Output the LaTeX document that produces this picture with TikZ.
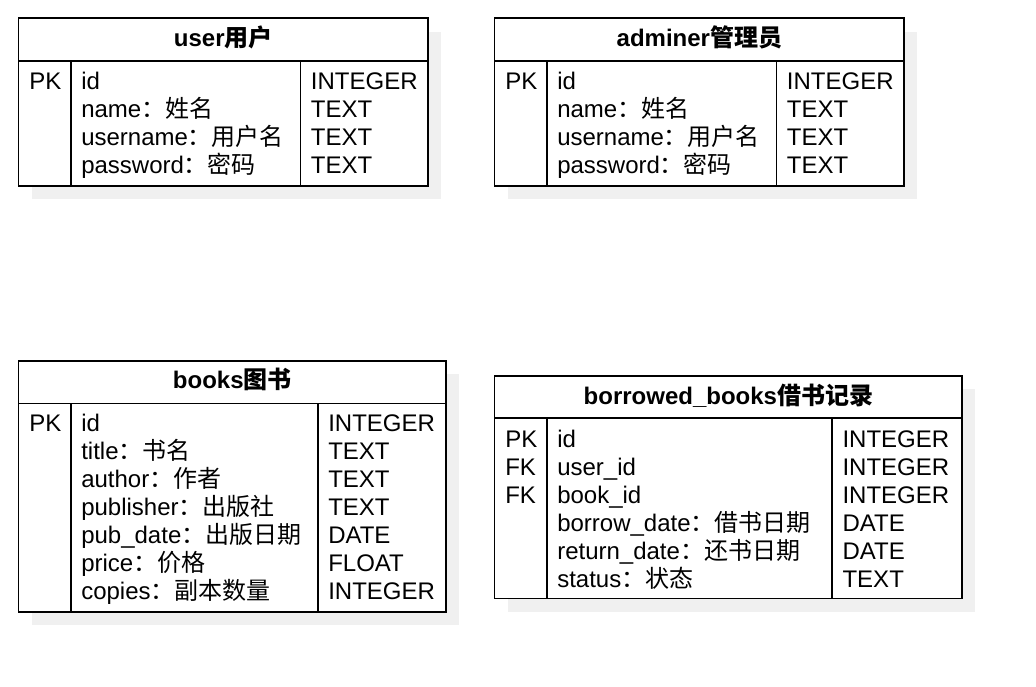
\documentclass[tikz,border=0pt]{standalone}
\usepackage{fontspec}
\setmainfont{Liberation Sans}
\newfontfamily\cjk{Noto Sans CJK SC}
\newcommand{\zh}[1]{{\cjk #1}}
\definecolor{shadowgray}{HTML}{F0F0F0}
\tikzset{
  tablebox/.style={draw=black, line width=1.3pt, fill=white},
  shadowbox/.style={fill=shadowgray, draw=none},
  divider/.style={draw=black, line width=1.3pt},
  cell/.style={anchor=base west, inner sep=0pt, align=left, font=\fontsize{18pt}{21pt}\selectfont},
  title/.style={anchor=base, inner sep=0pt, font=\fontsize{18pt}{21pt}\selectfont\bfseries},
}
% multi-line nodes: the base anchor is the baseline of the LAST line
\begin{document}
\begin{tikzpicture}[x=0.75pt, y=-0.75pt]
\useasboundingbox (0,0) rectangle (1036,686);

% ---------- user ----------
\fill[shadowbox] (32,32) rectangle (441,199);
\draw[tablebox] (18.5,18) rectangle (428,186);
\draw[divider] (18.5,61) -- (428,61);
\draw[divider] (70.7,61) -- (70.7,186);
\draw[divider] (300.5,61) -- (300.5,186);
\node[title] (userT) at (223.3,46.5) {user\zh{用户}};
\node[cell] (userK) at (29,89.3) {PK};
\node[cell] (userF) at (81,173.3) {id\\name\zh{：姓名}\\username\zh{：用户名}\\password\zh{：密码}};
\node[cell] (userY) at (310.7,173.3) {INTEGER\\TEXT\\TEXT\\TEXT};

% ---------- adminer ----------
\fill[shadowbox] (508,32) rectangle (917,199);
\draw[tablebox] (494.5,18) rectangle (904.3,186);
\draw[divider] (494.5,61) -- (904.3,61);
\draw[divider] (546.7,61) -- (546.7,186);
\draw[divider] (776.5,61) -- (776.5,186);
\node[title] (admT) at (699.4,46.5) {adminer\zh{管理员}};
\node[cell] (admK) at (505,89.3) {PK};
\node[cell] (admF) at (557,173.3) {id\\name\zh{：姓名}\\username\zh{：用户名}\\password\zh{：密码}};
\node[cell] (admY) at (786.7,173.3) {INTEGER\\TEXT\\TEXT\\TEXT};

% ---------- books ----------
\fill[shadowbox] (32,374) rectangle (459,625);
\draw[tablebox] (18.5,361) rectangle (446,611.7);
\draw[divider] (18.5,403.5) -- (446,403.5);
\draw[divider] (70.7,403.5) -- (70.7,611.7);
\draw[divider] (318,403.5) -- (318,611.7);
\node[title] (bookT) at (232.3,388.5) {books\zh{图书}};
\node[cell] (bookK) at (29,431.7) {PK};
\node[cell] (bookF) at (81,599.7) {id\\title\zh{：书名}\\author\zh{：作者}\\publisher\zh{：出版社}\\pub\_date\zh{：出版日期}\\price\zh{：价格}\\copies\zh{：副本数量}};
\node[cell] (bookY) at (328,599.7) {INTEGER\\TEXT\\TEXT\\TEXT\\DATE\\FLOAT\\INTEGER};

% ---------- borrowed_books ----------
\fill[shadowbox] (508,389) rectangle (975,611.5);
\draw[tablebox] (494.5,376) rectangle (962.3,598.5);
\draw[divider] (494.5,418) -- (962.3,418);
\draw[divider] (546.7,418) -- (546.7,598.5);
\draw[divider] (831.7,418) -- (831.7,598.5);
\node[title] (borT) at (728.4,404) {borrowed\_books\zh{借书记录}};
\node[cell] (borK) at (505,503.3) {PK\\FK\\FK};
\node[cell] (borF) at (557,587.3) {id\\user\_id\\book\_id\\borrow\_date\zh{：借书日期}\\return\_date\zh{：还书日期}\\status\zh{：状态}};
\node[cell] (borY) at (842.3,587.3) {INTEGER\\INTEGER\\INTEGER\\DATE\\DATE\\TEXT};
\end{tikzpicture}
\end{document}
